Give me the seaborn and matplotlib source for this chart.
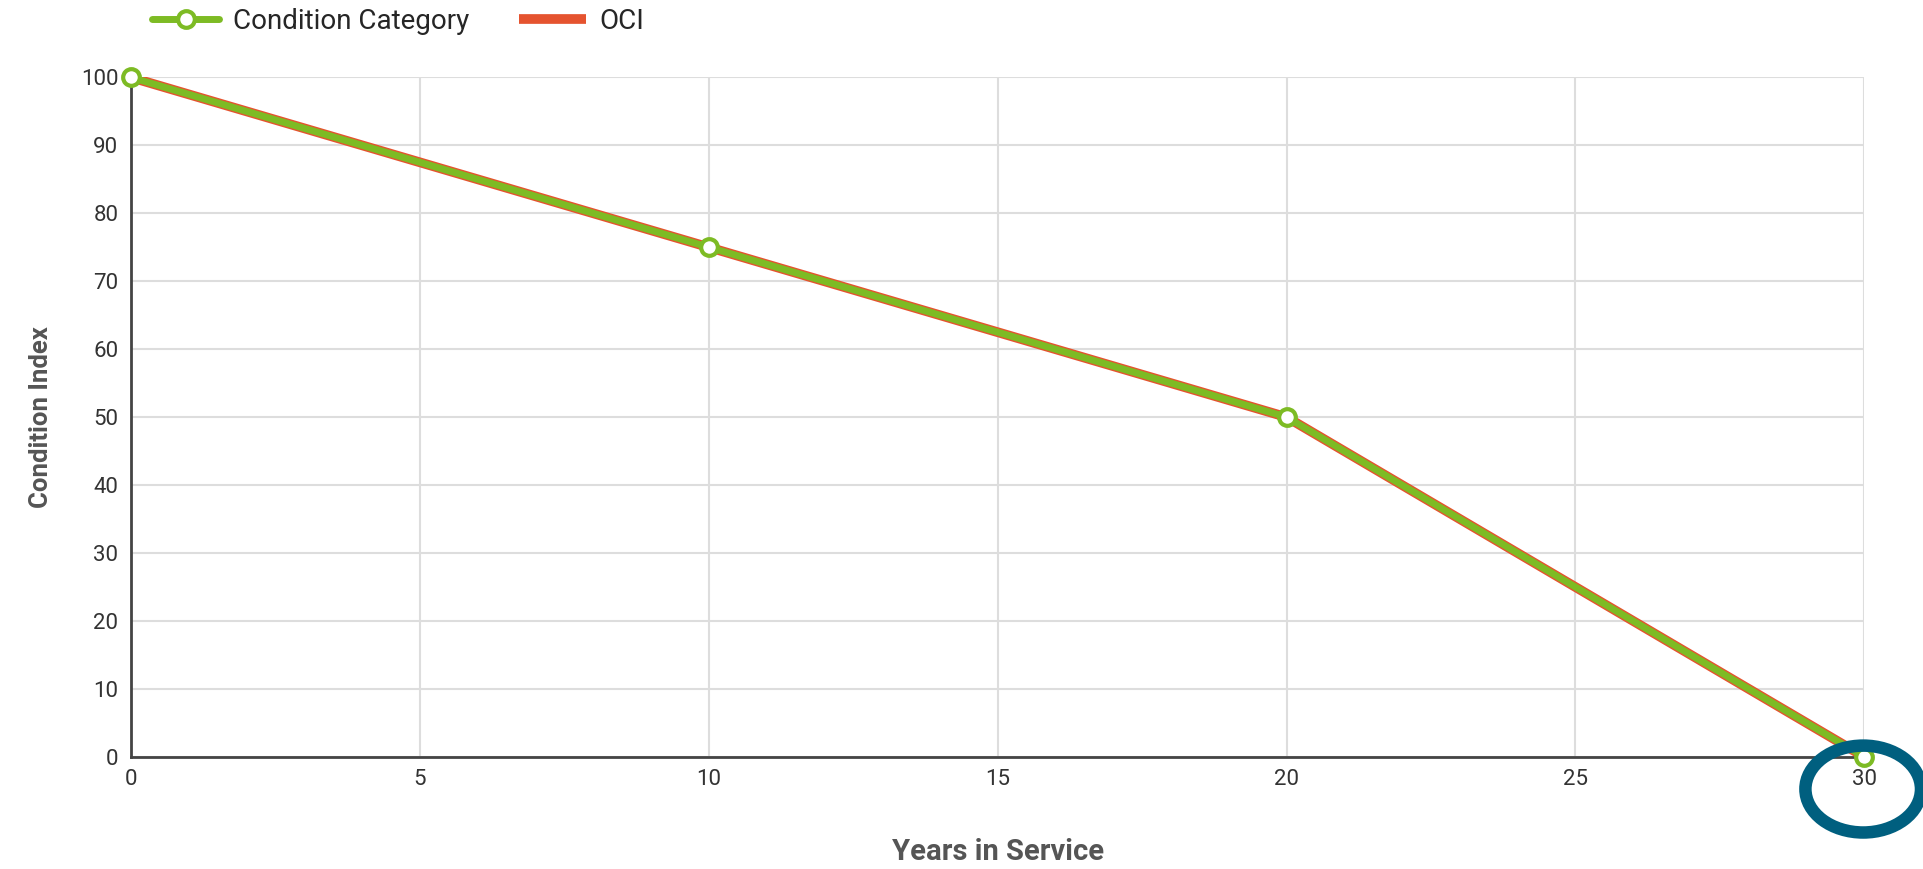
import matplotlib
matplotlib.use("Agg")
import matplotlib.pyplot as plt
import matplotlib.transforms as mtransforms
from matplotlib.patches import Ellipse
import seaborn as sns
import pandas as pd

years = [0, 10, 20, 30]
condition_category = [100, 75, 50, 0]
oci = [100, 75, 50, 0]
x_ticks = [0, 5, 10, 15, 20, 25, 30]
y_ticks = [0, 10, 20, 30, 40, 50, 60, 70, 80, 90, 100]

green = "#7DBB24"
red = "#E5532F"

sns.set_theme(style="white")
plt.rcParams['font.family'] = ['Roboto', 'DejaVu Sans']

df = pd.DataFrame({"Years": years, "Condition Category": condition_category, "OCI": oci})

fig = plt.figure(figsize=(19.24, 8.69), dpi=100)
ax = fig.add_axes([0.068, 0.129, 0.901, 0.782])

sns.lineplot(data=df, x="Years", y="OCI", ax=ax, color=red, linewidth=7, label="OCI",
             solid_capstyle="butt", zorder=3)
sns.lineplot(data=df, x="Years", y="Condition Category", ax=ax, color=green, linewidth=5,
             marker="o", markersize=12, markerfacecolor="white", markeredgecolor=green,
             markeredgewidth=3, label="Condition Category", zorder=4, clip_on=False)

ax.set_xlim(0, 30)
ax.set_ylim(0, 100)
ax.set_xticks(x_ticks)
ax.set_yticks(y_ticks)
ax.grid(True, color="#DDDDDD", linewidth=1.5)
ax.set_axisbelow(True)
for s in ["top", "right"]:
    ax.spines[s].set_visible(False)
for s in ["left", "bottom"]:
    ax.spines[s].set_color("#444444")
    ax.spines[s].set_linewidth(2)
ax.tick_params(axis="both", labelsize=16, colors="#333333", length=0, pad=9)
ax.set_xlabel("Years in Service", fontsize=21, color="#555555", fontweight="bold", labelpad=34)
ax.set_ylabel("Condition Index", fontsize=18.5, color="#555555", fontweight="bold", labelpad=20)

h, l = ax.get_legend_handles_labels()
leg = ax.legend([h[1], h[0]], [l[1], l[0]], loc="center left", bbox_to_anchor=(0.006, 1.082),
                ncol=2, frameon=False, fontsize=20, handlelength=2.4, columnspacing=1.8,
                handletextpad=0.5, borderaxespad=0)

# highlight around last x tick
trans = mtransforms.blended_transform_factory(ax.transData, fig.transFigure)
ell = Ellipse((29.98, 0.092), width=2.0, height=0.1, transform=trans, fill=False,
              edgecolor="#005F7F", linewidth=9, clip_on=False, zorder=10)
fig.add_artist(ell)

fig.savefig("out.png", dpi=100)
